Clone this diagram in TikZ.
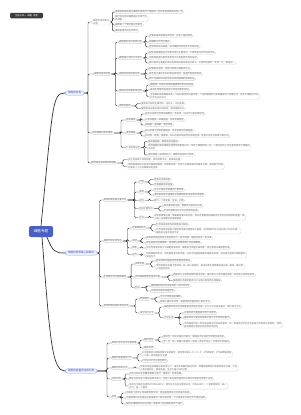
\documentclass[tikz,border=0pt]{standalone}
\usepackage{fontspec}
\setmainfont{Noto Sans CJK SC}
\newcommand\fs{\fontsize{2.25pt}{2.85pt}\selectfont}
\newcommand\fb{\fontsize{2.6pt}{3.2pt}\selectfont}
\newcommand\fr{\fontsize{3.6pt}{4.3pt}\selectfont}
\definecolor{lnc}{HTML}{333333}
\definecolor{bdc}{HTML}{D2D2D2}
\definecolor{txc}{HTML}{707070}
\definecolor{rootc}{HTML}{4A5FC4}
\definecolor{brf}{HTML}{EEF1FD}
\definecolor{brd}{HTML}{9DAAEA}
\definecolor{brt}{HTML}{4257C2}
\definecolor{ttlc}{HTML}{3C3C3C}
\tikzset{
 leaf/.style={draw=bdc, line width=0.3pt, fill=white, text=txc, font=\fs, rounded corners=1.9pt, inner xsep=1.3pt, inner ysep=0.6pt, anchor=west, align=left},
 br/.style={draw=brd, line width=0.35pt, fill=brf, text=brt, font=\fb, rounded corners=2.6pt, inner xsep=3pt, inner ysep=1.1pt, anchor=west},
 rootn/.style={fill=rootc, text=white, font=\fr, rounded corners=2pt, minimum width=24pt, minimum height=11pt, inner sep=0pt},
 ttln/.style={fill=ttlc, text=white, font=\fs, rounded corners=1.2pt, minimum width=33pt, minimum height=5.5pt, inner sep=0pt},
 conn/.style={draw=lnc, line width=0.45pt, rounded corners=1.2pt},
 trunk/.style={draw=lnc, line width=0.7pt},
}
\newcommand\fan[3]{\path (#2,0) coordinate (bx); \foreach \nd in {#3}{\draw[conn] (#1.east) -- (#1.east -| bx) |- (\nd.west);}}
\begin{document}
\begin{tikzpicture}[x=1pt,y=-1pt]
\useasboundingbox (0,0) rectangle (300,415);
\fill[white] (0,0) rectangle (300,415);
\node[ttln] (ttl) at (26.5,15.5) {生物必修一\hspace{1.2pt}细胞\hspace{1.2pt}导图};
\node[rootn] (root) at (41,231.5) {细胞专题};
% ---------------- B1
\node[br] (B1) at (65,93) {细胞的结构};
\node[leaf] (a1) at (92,22) {细胞学说的建立\\过程};
\node[leaf] (a1x1) at (114,12) {施莱登和施旺建立细胞学说揭示了细胞统一性和生物体结构的统一性};
\node[leaf] (a1x2) at (114,18.5) {魏尔肖总结出细胞通过分裂产生\\新细胞};
\node[leaf] (a1x3) at (114,25) {细胞是一个相对独立的单位};
\node[leaf] (a1x4) at (114,31) {细胞是基本的生命单位};
\node[leaf] (b1) at (93,74) {细胞的基本结构};
\node[leaf] (b1a) at (118,42) {细胞膜的成分及其功能};
\node[leaf] (b1a1) at (148,36) {主要由脂质和蛋白质组成，还有少量的糖类};
\node[leaf] (b1a2) at (148,42) {将细胞与外界分隔开};
\node[leaf] (b1a3) at (148,47) {控制物质进出细胞，进行细胞间的信息交流等功能};
\node[leaf] (b1b) at (118,58) {细胞器之间的分工合作};
\node[leaf] (b1b1) at (148,53) {线粒体是细胞进行有氧呼吸的主要场所，叶绿体是光合作用的场所};
\node[leaf] (b1b2) at (148,58) {内质网是蛋白质合成和加工以及脂质合成的车间};
\node[leaf] (b1b3) at (148,63) {高尔基体主要是对来自内质网的蛋白质进行加工、分类和包装的“车间”及“发送站”};
\node[leaf] (b1c) at (118,74) {细胞核的结构和功能};
\node[leaf] (b1c1) at (148,69) {核膜是双层膜，把核内物质与细胞质分开};
\node[leaf] (b1c2) at (148,74) {染色质主要由DNA和蛋白质组成，是遗传物质的载体};
\node[leaf] (b1c3) at (148,79) {核仁与某种RNA的合成以及核糖体的形成有关};
\node[leaf] (b1d) at (118,91) {细胞的生物膜系统组成};
\node[leaf] (b1d1) at (149,85) {细胞膜、核膜以及细胞器膜等结构共同构成};
\node[leaf] (b1d2) at (149,90) {各种生物膜的组成成分和结构都很相似};
\node[leaf] (b1d3) at (149,96.5) {生物膜系统使细胞具有一个相对稳定的内部环境，广阔的膜面积为多种酶提供了附着位点，有利于细胞内许多\\化学反应的进行};
\node[leaf] (b1e) at (118,106) {细胞质基质};
\node[leaf] (b1e1) at (140,103.5) {是新陈代谢的主要场所，含有水、无机盐等};
\node[leaf] (b1e2) at (140,108.5) {细胞骨架由蛋白质纤维组成，维持细胞形态};
\node[leaf] (c1) at (91,133) {原核细胞和真核细胞};
\node[leaf] (c1a) at (125,120) {原核细胞};
\node[leaf] (c1a1) at (144,114) {没有以核膜为界限的细胞核，有拟核，DNA不与蛋白质结合};
\node[leaf] (c1a2) at (144,120) {只有核糖体一种细胞器，多数有细胞壁};
\node[leaf] (c1a3) at (144,125) {如细菌、蓝细菌、支原体等};
\node[leaf] (c1b) at (125,133) {真核细胞};
\node[leaf] (c1b1) at (144,131) {有以核膜为界限的细胞核，有多种复杂的细胞器};
\node[leaf] (c1b2) at (144,136) {如动物、植物、真菌等，DNA与蛋白质结合形成染色体，能进行有丝分裂等分裂方式};
\node[leaf] (c1c) at (125,147.5) {二者的异同点};
\node[leaf] (c1c1) at (147,141.5) {都有细胞膜、细胞质和核糖体};
\node[leaf] (c1c2) at (147,147.5) {原核细胞和真核细胞的遗传物质都是DNA，体现了细胞的统一性；二者在结构上存在差异体现了细胞的\\多样性};
\node[leaf] (c1c3) at (147,155) {原核细胞一般体积较小，细胞的结构较为简单};
\node[leaf] (d1) at (90,163) {使用高倍显微镜观察细胞};
\node[leaf] (d1a) at (127,159.5) {先在低倍镜下找到物像，移到视野中央，再换高倍镜};
\node[leaf] (d1b) at (127,166.5) {换用高倍镜后只能调节细准焦螺旋，视野会变暗，可调大光圈或使用凹面反光镜；显微镜下所成\\的像是上下左右都颠倒的虚像};
% ---------------- B2
\node[br] (B2) at (65,253) {细胞的物质输入和输出};
\node[leaf] (e) at (102.5,200) {物质跨膜运输主要方式};
\node[leaf] (e1) at (138,182) {扩散};
\node[leaf] (e1a) at (153,179.5) {顺相对浓度梯度};
\node[leaf] (e1b) at (153,184.5) {不需要载体和能量};
\node[leaf] (e2) at (138,192) {渗透};
\node[leaf] (e2a) at (153,190) {水分子通过半透膜的扩散现象};
\node[leaf] (e2b) at (153,195) {条件是具有半透膜且半透膜两侧的溶液具有浓度差};
\node[leaf] (e3) at (138,200.5) {实例};
\node[leaf] (e3a) at (153,200.5) {氧气、二氧化碳、甘油、乙醇};
\node[leaf] (e4) at (138,208.5) {协助扩散特点};
\node[leaf] (e4a) at (162.5,206) {顺浓度梯度运输，需要转运蛋白的协助};
\node[leaf] (e4b) at (162.5,211) {不消耗细胞内化学反应释放的能量};
\node[leaf] (e5) at (138,217.5) {主动};
\node[leaf] (e5a) at (153,217.5) {逆浓度梯度运输，需要载体蛋白的协助，同时还需要消耗细胞内化学反应所释放的能量，如\\小肠上皮细胞吸收葡萄糖等};
\node[leaf] (f) at (102.5,241) {细胞的吸水和失水};
\node[leaf] (f1) at (131,228) {动物细胞吸水};
\node[leaf] (f1a) at (155,224.5) {外界溶液浓度低时细胞吸水膨胀};
\node[leaf] (f1b) at (155,231) {外界溶液浓度高于细胞质浓度时细胞失水皱缩，浓度相同时水分进出处于动态平衡，\\细胞形态基本保持不变};
\node[leaf] (f2) at (131,241) {原理};
\node[leaf] (f2a) at (145,238) {成熟植物细胞的原生质层相当于一层半透膜，细胞液具有一定浓度};
\node[leaf] (f2b) at (145,243) {原生质层包括细胞膜、液泡膜以及两层膜之间的细胞质};
\node[leaf] (f3) at (131,248) {现象};
\node[leaf] (f3a) at (145,248) {当外界溶液浓度大于细胞液浓度时，细胞发生质壁分离现象，原生质层与细胞壁分离};
\node[leaf] (f4) at (131,254.5) {应用};
\node[leaf] (f4a) at (145,255) {判断细胞的死活；测定细胞液浓度范围；比较不同植物细胞的细胞液浓度；验证原生质层比细胞壁的\\伸缩性大};
\node[leaf] (g) at (102.5,277) {生物膜的流动镶嵌模型};
\node[leaf] (g1) at (134,264) {探索历程};
\node[leaf] (g1a) at (155,261) {欧文顿发现脂溶性物质更容易通过};
\node[leaf] (g1b) at (155,267) {罗伯特森在电镜下看到暗—亮—暗三层结构，提出所有生物膜都由蛋白质—脂质—蛋白质\\三层结构构成};
\node[leaf] (g2) at (134,277) {流动镶嵌模型的基本内容};
\node[leaf] (g2a) at (172,275) {磷脂双分子层构成膜的基本支架，蛋白质分子有的镶在表面，有的嵌入或贯穿其中};
\node[leaf] (g2b) at (172,280.5) {细胞膜外表面的糖类分子与蛋白质结合形成糖被};
\node[leaf] (g3) at (134,287.5) {特点};
\node[leaf] (g3a) at (150,286) {细胞膜的结构特点是具有一定的流动性};
\node[leaf] (g3b) at (150,291) {功能特点是选择透过性};
\node[leaf] (h) at (102.5,306) {物质跨膜运输的其他实例};
\node[leaf] (h1) at (139,299) {胞吞胞吐};
\node[leaf] (h1a) at (159,297) {大分子物质进出细胞};
\node[leaf] (h1b) at (159,302) {依赖于膜的流动性，需要消耗能量和膜上蛋白参与};
\node[leaf] (h2) at (139,313) {离子和小分子};
\node[leaf] (h2a) at (163,307) {细胞膜和其他生物膜都是选择透过性膜，水分子可以自由通过，离子和小分子};
\node[leaf] (h2b) at (163,317.5) {不同生物};
\node[leaf] (h2b1) at (183,313) {水稻吸收大量硅离子而少吸收钙};
\node[leaf] (h2b2) at (183,318) {番茄吸收大量的钙镁离子而几乎不吸收硅离子};
\node[leaf] (h2b3) at (183,325) {不同植物对同一种无机盐离子的吸收有差异，同一种植物对不同无机盐离子的吸收也有差异，说明\\植物细胞对物质的吸收具有选择性};
% ---------------- B3
\node[br] (B3) at (65,371) {细胞的能量供应和利用};
\node[leaf] (i) at (110.5,343) {降低化学反应活化能的酶};
\node[leaf] (i1) at (143,340) {酶的特性};
\node[leaf] (i1a) at (162,337) {高效性：同无机催化剂相比，酶降低活化能的作用更显著得多};
\node[leaf] (i1b) at (162,342) {专一性：每一种酶只能催化一种或一类化学反应；作用条件较温和};
\node[leaf] (i2) at (143,348) {酶的本质};
\node[leaf] (j) at (110.5,358) {细胞的能量通货ATP};
\node[leaf] (ja) at (141,354) {ATP是腺苷三磷酸的英文名称缩写，结构简式是A—P～P～P，A代表腺苷，P代表磷酸基团\\～代表一种特殊的化学键};
\node[leaf] (jb) at (141,361) {ATP与ADP可以相互转化};
\node[leaf] (k) at (110.5,368) {细胞呼吸的方式};
\node[leaf] (ka) at (139,368) {有氧呼吸是指细胞在氧的参与下，通过多种酶的催化作用，把葡萄糖等有机物彻底氧化分解，产生\\二氧化碳和水，释放能量，生成大量ATP的过程};
\node[leaf] (l) at (110.5,379) {光合作用};
\node[leaf] (la) at (128,374) {光反应阶段在类囊体薄膜上进行，需要光、色素和酶};
\node[leaf] (lb) at (128,379) {暗反应阶段在叶绿体基质中进行，包括二氧化碳的固定和三碳化合物的还原两个过程};
\node[leaf] (lc) at (128,386) {光反应为暗反应提供ATP和NADPH，暗反应为光反应提供ADP、Pi和NADP+，二者紧密联系，缺一\\不可，是一个整体};
\node[leaf] (m) at (110.5,397) {应用};
\node[leaf] (ma) at (125,393) {中耕松土有利于根细胞有氧呼吸，促进植物根系对无机盐的吸收};
\node[leaf] (mb) at (125,398) {大棚种植时适当增加光照强度和二氧化碳浓度，可以提高农作物光合作用的强度};
\node[leaf] (mc) at (125,404) {储存水果蔬菜时应在低温、低氧和一定湿度的条件下进行};
% ---------------- trunks
\draw[trunk] (root.north) .. controls (53,105) and (52,93) .. (B1.west);
\draw[trunk] ([xshift=6pt]root.south) .. controls (53,252) and (55,253) .. (B2.west);
\draw[trunk] ([xshift=1pt]root.south) .. controls (50,340) and (52,371) .. (B3.west);
% ---------------- connectors
\fan{B1}{88}{a1,b1,c1,d1}
\fan{a1}{112.3}{a1x1,a1x2,a1x3,a1x4}
\fan{b1}{115.5}{b1a,b1b,b1c,b1d,b1e}
\fan{b1a}{145.6}{b1a1,b1a2,b1a3}
\fan{b1b}{145.6}{b1b1,b1b2,b1b3}
\fan{b1c}{145.6}{b1c1,b1c2,b1c3}
\fan{b1d}{146.5}{b1d1,b1d2,b1d3}
\fan{b1e}{136.5}{b1e1,b1e2}
\fan{c1}{121}{c1a,c1b,c1c}
\fan{c1a}{141}{c1a1,c1a2,c1a3}
\fan{c1b}{141}{c1b1,c1b2}
\fan{c1c}{144.3}{c1c1,c1c2,c1c3}
\fan{d1}{123}{d1a,d1b}
\fan{B2}{99.5}{e,f,g,h}
\fan{e}{134.5}{e1,e2,e3,e4,e5}
\fan{e1}{149.5}{e1a,e1b}
\fan{e2}{149.5}{e2a,e2b}
\fan{e3}{149.5}{e3a}
\fan{e4}{159.3}{e4a,e4b}
\fan{e5}{149.5}{e5a}
\fan{f}{127.5}{f1,f2,f3,f4}
\fan{f1}{151.5}{f1a,f1b}
\fan{f2}{141.5}{f2a,f2b}
\fan{f3}{141.5}{f3a}
\fan{f4}{141.5}{f4a}
\fan{g}{131.2}{g1,g2,g3}
\fan{g1}{151.3}{g1a,g1b}
\fan{g2}{168.5}{g2a,g2b}
\fan{g3}{146.3}{g3a,g3b}
\fan{h}{135.5}{h1,h2}
\fan{h1}{155.6}{h1a,h1b}
\fan{h2}{159.6}{h2a,h2b}
\fan{h2b}{179.5}{h2b1,h2b2,h2b3}
\fan{B3}{107}{i,j,k,l,m}
\fan{i}{140}{i1,i2}
\fan{i1}{158.8}{i1a,i1b}
\fan{j}{137.8}{ja,jb}
\fan{k}{134.8}{ka}
\fan{l}{125.2}{la,lb,lc}
\fan{m}{121.5}{ma,mb,mc}
\end{tikzpicture}
\end{document}
